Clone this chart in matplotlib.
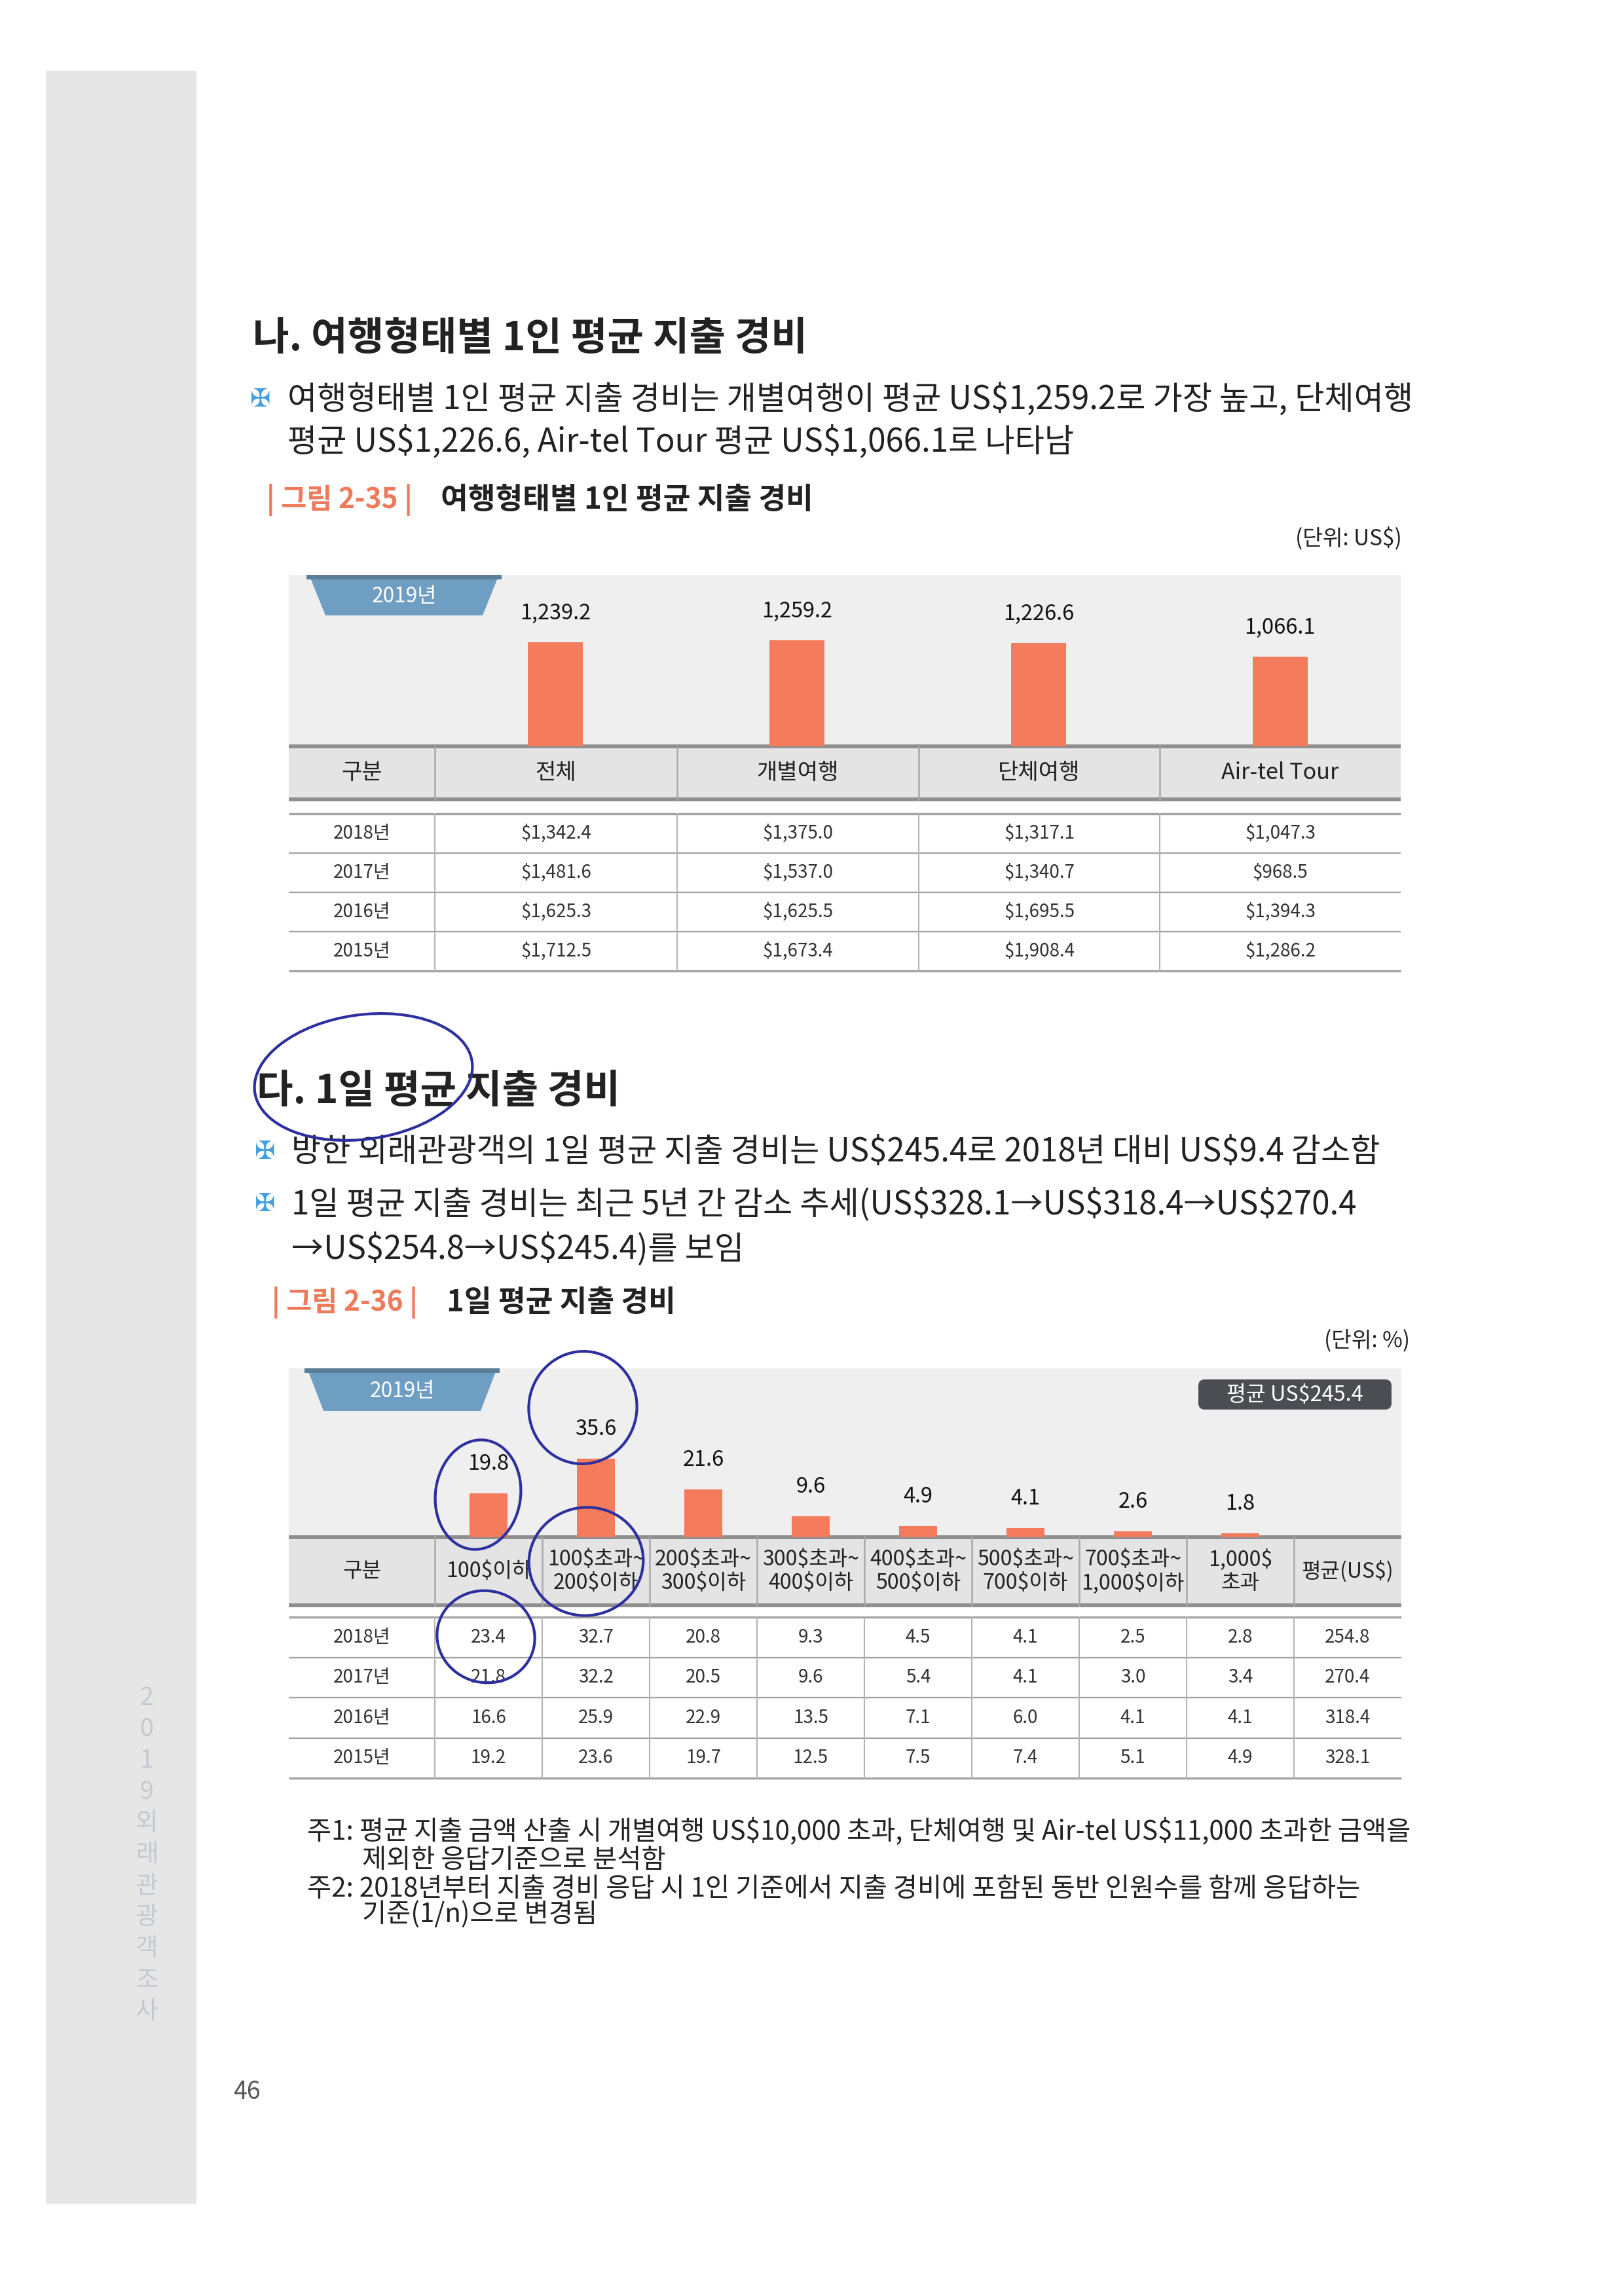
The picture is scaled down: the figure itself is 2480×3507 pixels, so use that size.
import matplotlib
matplotlib.use("Agg")
import matplotlib.pyplot as plt
import numpy as np
from matplotlib.patches import Rectangle, Polygon, FancyBboxPatch, Ellipse

plt.rcParams['font.family'] = ['Noto Sans CJK KR', 'DejaVu Sans']

# ---- figure 2-35 data
trip_types = ['전체', '개별여행', '단체여행', 'Air-tel Tour']
spend_2019 = [1239.2, 1259.2, 1226.6, 1066.1]
past_years = ['2018년', '2017년', '2016년', '2015년']
spend_2018 = [1342.4, 1375.0, 1317.1, 1047.3]
spend_2017 = [1481.6, 1537.0, 1340.7, 968.5]
spend_2016 = [1625.3, 1625.5, 1695.5, 1394.3]
spend_2015 = [1712.5, 1673.4, 1908.4, 1286.2]

# ---- figure 2-36 data
day_bins = ['100$이하', '100$초과~\n200$이하', '200$초과~\n300$이하', '300$초과~\n400$이하',
            '400$초과~\n500$이하', '500$초과~\n700$이하', '700$초과~\n1,000$이하', '1,000$\n초과']
day_share_2019 = [19.8, 35.6, 21.6, 9.6, 4.9, 4.1, 2.6, 1.8]
day_avg_2019 = 245.4
day_share_2018 = [23.4, 32.7, 20.8, 9.3, 4.5, 4.1, 2.5, 2.8]
day_share_2017 = [21.8, 32.2, 20.5, 9.6, 5.4, 4.1, 3.0, 3.4]
day_share_2016 = [16.6, 25.9, 22.9, 13.5, 7.1, 6.0, 4.1, 4.1]
day_share_2015 = [19.2, 23.6, 19.7, 12.5, 7.5, 7.4, 5.1, 4.9]
day_avg_past = [254.8, 270.4, 318.4, 328.1]

W, H = 2480, 3507
BAR = '#f47b5c'
SALMON = '#ee7a5c'
TXT = '#222222'
THICK = '#8e8e8e'
THIN = '#b4b4b4'
BODY = 11.8

fig = plt.figure(figsize=(W / 300, H / 300), dpi=300)
fig.patch.set_facecolor('white')

page = fig.add_axes([0, 0, 1, 1])
page.set_xlim(0, W)
page.set_ylim(H, 0)
page.axis('off')


def px_axes(x0, y0, x1, y1):
    # axes placed by page pixel box (y measured from top)
    ax = fig.add_axes([x0 / W, 1 - y1 / H, (x1 - x0) / W, (y1 - y0) / H])
    ax.patch.set_alpha(0)
    ax.axis('off')
    return ax


def txt(x, y, s, size, **kw):
    kw.setdefault('color', TXT)
    kw.setdefault('va', 'center')
    kw.setdefault('ha', 'left')
    page.text(x, y, s, fontsize=size, parse_math=False, **kw)


def bullet(x, y):
    page.text(x, y, '✠', fontsize=9, color='#3f9fe2', ha='center', va='center',
              family=['DejaVu Sans'])


def year_tab(x0, x1, y0, y1):
    inset = 25
    page.add_patch(Polygon([(x0, y0), (x1, y0), (x1 - inset, y1), (x0 + inset, y1)],
                           closed=True, facecolor='#6f9ec3', edgecolor='none'))
    page.add_patch(Rectangle((x0 - 4, y0), x1 - x0 + 8, 7, facecolor='#5c7d97', edgecolor='none'))
    page.text((x0 + x1) / 2, (y0 + y1) / 2 + 2, '2019년', fontsize=7.6, color='white',
              ha='center', va='center')


def hline(x0, x1, y, color, lw):
    page.plot([x0, x1], [y, y], color=color, lw=lw, solid_capstyle='butt')


def vline(x, y0, y1, color, lw):
    page.plot([x, x], [y0, y1], color=color, lw=lw)


# ---- left margin strip
page.add_patch(Rectangle((70, 108), 230, 3258, facecolor='#e6e6e6', edgecolor='none'))
for i, ch in enumerate('2019외래관광객조사'):
    page.text(224, 2593 + i * 48, ch, fontsize=9, color='#c3c9d1', ha='center', va='center')
txt(377, 3195, '46', 9, color='#555555', ha='center')

# ---- section 나
txt(386, 517, '나. 여행형태별 1인 평균 지출 경비', 14.5, weight='bold')
bullet(398, 611)
txt(439, 611, '여행형태별 1인 평균 지출 경비는 개별여행이 평균 US$1,259.2로 가장 높고, 단체여행', BODY)
txt(439, 676, '평균 US$1,226.6, Air-tel Tour 평균 US$1,066.1로 나타남', BODY)
txt(407, 764, '| 그림 2-35 |', 10.2, color=SALMON, weight='bold')
txt(673, 764, '여행형태별 1인 평균 지출 경비', 10.9, weight='bold')
txt(2141, 822, '(단위: US$)', 8, ha='right')

# chart 2-35 panel + bars
cols1 = [441, 664, 1034, 1403, 1771, 2139]
top1, base1, hbot1, rtop1, rh1 = 878, 1140, 1221, 1243, 60
page.add_patch(Rectangle((cols1[0], top1), cols1[-1] - cols1[0], base1 - top1,
                         facecolor='#efefef', edgecolor='none'))
year_tab(472, 762, top1, 940)

ax1 = px_axes(cols1[1], top1, cols1[-1], base1)
x1 = np.arange(len(trip_types))
ax1.bar(x1, spend_2019, width=0.228, color=BAR)
ax1.set_xlim(-0.5, len(trip_types) - 0.5)
ax1.set_ylim(0, 2036)
for xi, v in zip(x1, spend_2019):
    ax1.annotate(f'{v:,.1f}', (xi, v), xytext=(0, 10.5), textcoords='offset points',
                 ha='center', va='center', fontsize=7.8, color='#111111')

# header
page.add_patch(Rectangle((cols1[0], base1), cols1[-1] - cols1[0], hbot1 - base1,
                         facecolor='#e4e4e4', edgecolor='none'))
hline(cols1[0], cols1[-1], base1, THICK, 1.4)
hline(cols1[0], cols1[-1], hbot1, THICK, 1.4)
for c in cols1[1:-1]:
    vline(c, base1, hbot1, '#a9a9a9', 0.6)
for i, lab in enumerate(['구분'] + trip_types):
    page.text((cols1[i] + cols1[i + 1]) / 2, (base1 + hbot1) / 2, lab, fontsize=8.2,
              color=TXT, ha='center', va='center')

# rows
rows1 = [spend_2018, spend_2017, spend_2016, spend_2015]
for r in range(len(rows1) + 1):
    hline(cols1[0], cols1[-1], rtop1 + r * rh1, '#a3a3a3', 0.8 if r in (0, len(rows1)) else 0.55)
for c in cols1[1:-1]:
    vline(c, rtop1, rtop1 + len(rows1) * rh1, THIN, 0.5)
for r, (yr, vals) in enumerate(zip(past_years, rows1)):
    yc = rtop1 + r * rh1 + rh1 / 2
    page.text((cols1[0] + cols1[1]) / 2, yc, yr, fontsize=6.7, color='#333333', ha='center', va='center')
    for i, v in enumerate(vals):
        page.text((cols1[i + 1] + cols1[i + 2]) / 2, yc, f'${v:,.1f}', fontsize=6.7,
                  color='#333333', ha='center', va='center', parse_math=False)

# ---- section 다
txt(392, 1667, '다. 1일 평균 지출 경비', 14.5, weight='bold')
bullet(405, 1760)
txt(445, 1760, '방한 외래관광객의 1일 평균 지출 경비는 US$245.4로 2018년 대비 US$9.4 감소함', BODY)
bullet(405, 1840)
txt(445, 1840, '1일 평균 지출 경비는 최근 5년 간 감소 추세(US$328.1→US$318.4→US$270.4', BODY)
txt(445, 1908, '→US$254.8→US$245.4)를 보임', BODY)
txt(415, 1990, '| 그림 2-36 |', 10.2, color=SALMON, weight='bold')
txt(682, 1990, '1일 평균 지출 경비', 10.9, weight='bold')
txt(2153, 2049, '(단위: %)', 8, ha='right')

# chart 2-36 panel + bars
ncol2 = len(day_bins) + 1
cols2 = [441] + list(np.linspace(664, 2140, ncol2 + 1))
top2, base2, hbot2, rtop2, rh2 = 2090, 2348, 2452, 2470, 61.5
page.add_patch(Rectangle((cols2[0], top2), cols2[-1] - cols2[0], base2 - top2,
                         facecolor='#efefef', edgecolor='none'))
year_tab(469, 759, top2, 2155)
page.add_patch(FancyBboxPatch((1830, 2107), 295, 46, boxstyle='round,pad=0,rounding_size=10',
                              facecolor='#4a4d52', edgecolor='none'))
page.text(1977, 2131, f'평균 US${day_avg_2019}', fontsize=7.8, color='white', ha='center',
          va='center', parse_math=False)

ax2 = px_axes(cols2[1], top2, cols2[-1], base2)
x2 = np.arange(len(day_bins))
ax2.bar(x2, day_share_2019, width=0.354, color=BAR)
ax2.set_xlim(-0.5, ncol2 - 0.5)
ax2.set_ylim(0, 76.5)
for xi, v in zip(x2, day_share_2019):
    ax2.annotate(f'{v:.1f}', (xi, v), xytext=(0, 10.8), textcoords='offset points',
                 ha='center', va='center', fontsize=7.8, color='#111111')

page.add_patch(Rectangle((cols2[0], base2), cols2[-1] - cols2[0], hbot2 - base2,
                         facecolor='#e4e4e4', edgecolor='none'))
hline(cols2[0], cols2[-1], base2, THICK, 1.4)
hline(cols2[0], cols2[-1], hbot2, THICK, 1.4)
for c in cols2[1:-1]:
    vline(c, base2, hbot2, '#a9a9a9', 0.6)
for i, lab in enumerate(['구분'] + day_bins + ['평균(US$)']):
    page.text((cols2[i] + cols2[i + 1]) / 2, (base2 + hbot2) / 2, lab, fontsize=7.7,
              color=TXT, ha='center', va='center', linespacing=1.15, parse_math=False)

rows2 = [day_share_2018, day_share_2017, day_share_2016, day_share_2015]
for r in range(len(rows2) + 1):
    hline(cols2[0], cols2[-1], rtop2 + r * rh2, '#a3a3a3', 0.8 if r in (0, len(rows2)) else 0.55)
for c in cols2[1:-1]:
    vline(c, rtop2, rtop2 + len(rows2) * rh2, THIN, 0.5)
for r, (yr, vals, avg) in enumerate(zip(past_years, rows2, day_avg_past)):
    yc = rtop2 + r * rh2 + rh2 / 2
    page.text((cols2[0] + cols2[1]) / 2, yc, yr, fontsize=6.7, color='#333333', ha='center', va='center')
    for i, v in enumerate(list(vals) + [avg]):
        page.text((cols2[i + 1] + cols2[i + 2]) / 2, yc, f'{v:.1f}', fontsize=6.7,
                  color='#333333', ha='center', va='center')

# ---- notes
NOTE = 9.7
txt(469, 2797, '주1: 평균 지출 금액 산출 시 개별여행 US$10,000 초과, 단체여행 및 Air-tel US$11,000 초과한 금액을', NOTE)
txt(553, 2842, '제외한 응답기준으로 분석함', NOTE)
txt(469, 2885, '주2: 2018년부터 지출 경비 응답 시 1인 기준에서 지출 경비에 포함된 동반 인원수를 함께 응답하는', NOTE)
txt(553, 2924, '기준(1/n)으로 변경됨', NOTE)

# ---- handwritten pen marks on the scan
ink = fig.add_axes([0, 0, 1, 1])
ink.set_xlim(0, W)
ink.set_ylim(H, 0)
ink.axis('off')
ink.patch.set_alpha(0)
PEN = '#2d2f9f'
for (cx, cy, ew, eh, ang) in [(555, 1645, 335, 190, -8), (890, 2150, 165, 172, 10),
                              (730, 2283, 130, 168, 8), (895, 2385, 175, 165, -10),
                              (742, 2500, 150, 140, 15)]:
    ink.add_patch(Ellipse((cx, cy), ew, eh, angle=ang, fill=False, edgecolor=PEN, lw=1.0))

fig.savefig('out.png', dpi=300)
